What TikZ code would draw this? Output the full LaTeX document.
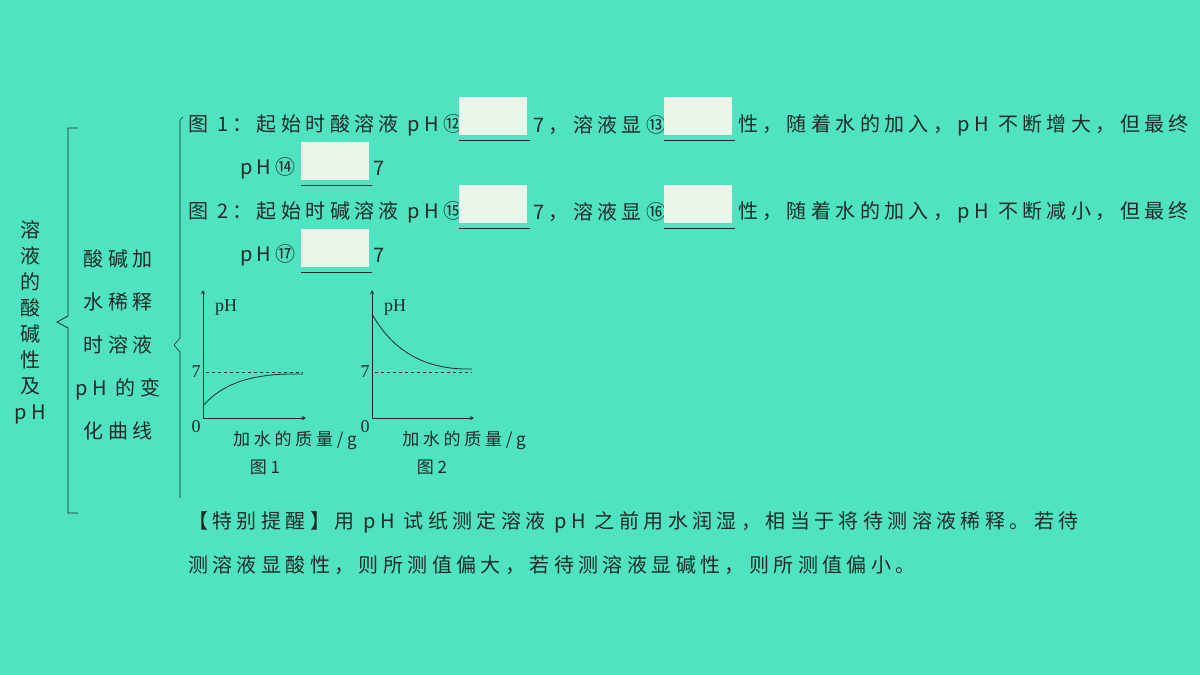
\documentclass[tikz,border=0pt]{standalone}
\usepackage{fontspec}
\setmainfont{Liberation Serif}
\newfontfamily\cjk[LetterSpace=22]{Noto Sans CJK SC}
\usetikzlibrary{decorations.pathreplacing}
\definecolor{bgteal}{HTML}{50E3C2}
\definecolor{ink}{HTML}{1E2A26}
\definecolor{blankfill}{HTML}{EAF6EA}
\tikzstyle{line} = [anchor=west, inner sep=0pt, text=ink, font=\cjk\fontsize{20}{22}\selectfont]
\tikzstyle{blank} = [draw=none, fill=blankfill, minimum width=68pt, minimum height=38pt, inner sep=0pt]
\tikzstyle{axis} = [ink, line width=0.9pt, -stealth]
\tikzstyle{small} = [text=ink, inner sep=0pt, font=\fontsize{18}{20}\selectfont]
\begin{document}
\begin{tikzpicture}[x=1pt, y=-1pt]
\fill[bgteal] (0,0) rectangle (1200,675);
\useasboundingbox (0,0) rectangle (1200,675);

% left titles
\node (title) [small, align=center, font=\cjk\fontsize{20}{26}\selectfont] at (30,322) {溶\\液\\的\\酸\\碱\\性\\及\\pH};
\draw [ink, line width=0.8pt] (78,128) -- (68,128) -- (68,316) -- (57,322) -- (68,328) -- (68,513) -- (78,513);
\node (sub) [small, align=center, font=\cjk\fontsize{20}{43}\selectfont] at (118,345) {酸碱加\\水稀释\\时溶液\\pH 的变\\化曲线};
\draw [ink, line width=0.6pt] (183,117) -- (180,120) -- (180,338) -- (174,345) -- (180,352) -- (180,498);

% text lines
\node (l1a) [line] at (188,125) {图 1：起始时酸溶液 pH⑫};
\node (b12) [blank, anchor=north west] at (459,97) {};
\node (l1b) [line] at (533,125) {7，溶液显⑬};
\node (b13) [blank, anchor=north west] at (664,97) {};
\node (l1c) [line] at (738,125) {性，随着水的加入，pH 不断增大，但最终};
\node (l2a) [line] at (240,168) {pH⑭};
\node (b14) [blank, anchor=north west] at (301,142) {};
\node (l2b) [line] at (373,168) {7};
\node (l3a) [line] at (188,212) {图 2：起始时碱溶液 pH⑮};
\node (b15) [blank, anchor=north west] at (459,185) {};
\node (l3b) [line] at (533,212) {7，溶液显⑯};
\node (b16) [blank, anchor=north west] at (664,185) {};
\node (l3c) [line] at (738,212) {性，随着水的加入，pH 不断减小，但最终};
\node (l4a) [line] at (240,255) {pH⑰};
\node (b17) [blank, anchor=north west] at (301,229) {};
\node (l4b) [line] at (373,255) {7};
\foreach \b in {b12,b13,b14,b15,b16,b17}
  \draw [ink, line width=0.9pt] ([yshift=-5pt]\b.south west) -- ([xshift=3pt,yshift=-5pt]\b.south east);

% graph 1
\coordinate (o1) at (203,418);
\draw [axis] (o1) -- (203,290);
\draw [axis] (o1) -- (306,418);
\draw [ink, dashed, line width=0.5pt] (206,372) -- (303,372);
\draw [ink, line width=0.8pt] (203,406) .. controls (225,380) and (260,373) .. (303,374);
\node (p1) [small, anchor=west] at (215,308) {pH};
\node (z1) [small] at (196,427) {0};
\node (s1) [small] at (196,372) {7};
\node (x1) [small, font=\cjk\fontsize{17}{20}\selectfont] at (295,440) {加水的质量/g};
\node (f1) [small, font=\cjk\fontsize{17}{20}\selectfont] at (265,467) {图1};

% graph 2
\coordinate (o2) at (372,418);
\draw [axis] (o2) -- (372,290);
\draw [axis] (o2) -- (474,418);
\draw [ink, dashed, line width=0.5pt] (375,372) -- (472,372);
\draw [ink, line width=0.8pt] (372,314) .. controls (395,355) and (430,370) .. (472,369);
\node (p2) [small, anchor=west] at (384,308) {pH};
\node (z2) [small] at (365,427) {0};
\node (s2) [small] at (365,372) {7};
\node (x2) [small, font=\cjk\fontsize{17}{20}\selectfont] at (464,440) {加水的质量/g};
\node (f2) [small, font=\cjk\fontsize{17}{20}\selectfont] at (432,467) {图2};

% reminder
\node (n1) [line] at (188,522) {【特别提醒】用 pH 试纸测定溶液 pH 之前用水润湿，相当于将待测溶液稀释。若待};
\node (n2) [line] at (188,565) {测溶液显酸性，则所测值偏大，若待测溶液显碱性，则所测值偏小。};
\end{tikzpicture}
\end{document}
